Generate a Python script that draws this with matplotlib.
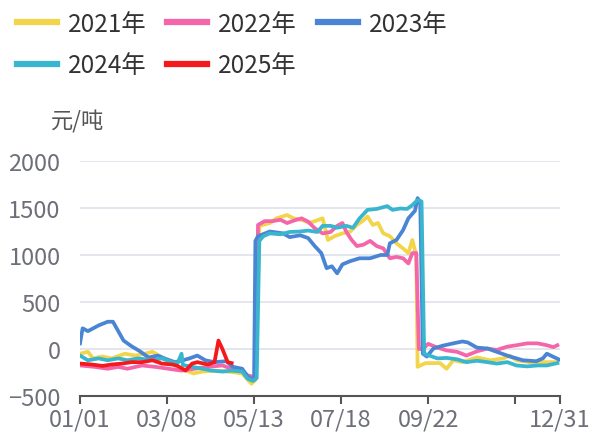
import matplotlib
matplotlib.use("Agg")
import matplotlib.pyplot as plt

plt.rcParams['font.family'] = ['Noto Sans CJK SC', 'DejaVu Sans']

# day of year (0 = 01/01) and price spread, 元/吨
d2021 = [0, 6, 10, 17, 24, 34, 42, 49, 55, 61, 70, 77, 86, 93, 102, 112, 123, 130, 133,
         136, 144, 149, 157, 162, 169, 174, 180, 184, 188, 193, 199, 205, 210, 215, 218, 222,
         226, 230, 235, 240, 245, 249, 252, 254, 255, 256, 262, 273, 278, 283, 290, 301,
         311, 321, 326, 331, 341, 351, 362]
v2021 = [-50, -30, -100, -80, -100, -50, -70, -50, -30, -80, -155, -210, -260, -240, -230,
         -240, -260, -370, -330, 1310, 1340, 1390, 1425, 1390, 1370, 1340, 1370, 1390, 1160,
         1200, 1230, 1250, 1320, 1370, 1410, 1320, 1340, 1230, 1200, 1125, 1070, 1020, 1160,
         1050, 1020, -190, -150, -150, -210, -120, -140, -90, -120, -100, -70, -120, -140,
         -140, -140]

d2022 = [0, 11, 21, 29, 36, 47, 57, 67, 77, 87, 97, 108, 115, 123, 127, 133, 135, 140, 146,
         152, 157, 163, 168, 173, 178, 184, 190, 195, 199, 202, 206, 210, 215, 220, 225, 230,
         235, 240, 245, 249, 252, 255, 257, 260, 264, 271, 278, 286, 293, 301, 309, 316, 324,
         331, 339, 347, 354, 359, 362]
v2022 = [-175, -190, -210, -190, -210, -175, -190, -210, -230, -210, -190, -175, -210, -230,
         -280, -300, 1320, 1360, 1360, 1375, 1340, 1370, 1390, 1355, 1285, 1230, 1245, 1310,
         1340, 1245, 1160, 1095, 1110, 1150, 1095, 1070, 965, 980, 965, 910, 1020, 1020, 0, 0,
         55, 15, -15, -30, -70, -25, 5, -10, 25, 40, 60, 60, 40, 20, 40]

d2023 = [0, 2, 6, 14, 21, 25, 29, 33, 39, 45, 52, 59, 64, 72, 78, 83, 89, 95, 102, 111, 116,
         123, 127, 130, 132, 133, 135, 144, 154, 159, 167, 173, 178, 183, 187, 191, 195, 199,
         205, 212, 220, 228, 233, 235, 240, 245, 249, 254, 256, 258, 260, 263, 268, 275, 283,
         290, 294, 301, 309, 316, 326, 336, 346, 351, 354, 360, 363]
v2023 = [60, 220, 190, 250, 290, 290, 190, 90, 30, -20, -90, -70, -100, -140, -120, -100, -70,
         -120, -140, -130, -190, -210, -290, -320, -330, 1150, 1200, 1250, 1230, 1190, 1210,
         1180, 1095, 1020, 860, 880, 805, 900, 935, 965, 965, 1000, 1000, 1125, 1160, 1265,
         1390, 1470, 1605, 1560, -50, -80, 5, 35, 60, 80, 70, 15, 5, -30, -80, -120, -130,
         -100, -50, -90, -110]

d2024 = [0, 6, 14, 21, 29, 36, 44, 55, 62, 70, 74, 77, 78, 85, 93, 100, 108, 115, 123, 127,
         131, 134, 136, 139, 144, 152, 159, 167, 173, 180, 184, 190, 195, 202, 207, 212, 218,
         225, 233, 237, 243, 248, 252, 256, 259, 261, 265, 271, 278, 286, 293, 301, 309, 316,
         324, 331, 339, 347, 354, 362]
v2024 = [-70, -120, -100, -120, -100, -120, -100, -120, -100, -140, -150, -50, -170, -190,
         -210, -230, -240, -230, -240, -315, -340, -310, 1150, 1200, 1230, 1220, 1245, 1250,
         1260, 1245, 1310, 1310, 1290, 1310, 1290, 1390, 1480, 1490, 1520, 1480, 1495, 1490,
         1530, 1585, 1570, -50, -70, -100, -95, -110, -140, -125, -140, -155, -140, -175,
         -185, -175, -175, -150]

d2025 = [0, 9, 17, 24, 32, 39, 47, 55, 62, 70, 74, 80, 85, 89, 97, 102, 105, 108, 112, 115]
v2025 = [-155, -165, -180, -165, -155, -140, -140, -120, -155, -165, -180, -230, -155, -140,
         -165, -140, 90, 0, -140, -150]

series = [("2021年", d2021, v2021, "#f3d54c"),
          ("2022年", d2022, v2022, "#f466a9"),
          ("2023年", d2023, v2023, "#4a85d4"),
          ("2024年", d2024, v2024, "#3ab5cf"),
          ("2025年", d2025, v2025, "#f5191c")]

tick_days = [0, 66, 132, 198, 264, 330, 364]
tick_labels = ["01/01", "03/08", "05/13", "07/18", "09/22", "", "12/31"]

fig = plt.figure(figsize=(5.91, 4.39), dpi=100)
ax = fig.add_axes([80/591, 1-397/439, 480/591, 235/439])

lines = []
for name, d, v, c in series:
    l, = ax.plot(d, v, color=c, lw=2.7, label=name, solid_joinstyle='round')
    lines.append(l)

ax.set_xlim(0, 364)
ax.set_ylim(-500, 2000)
ax.set_yticks([-500, 0, 500, 1000, 1500, 2000])
ax.set_xticks(tick_days)
ax.set_xticklabels(tick_labels)
ax.grid(axis='y', color='#e0e3ee', lw=1.3)
ax.set_axisbelow(True)
for s in ['top', 'right', 'left']:
    ax.spines[s].set_visible(False)
ax.spines['bottom'].set_color('#555555')
ax.spines['bottom'].set_linewidth(1.5)
ax.tick_params(axis='x', colors='#555555', length=6, width=1.5, labelsize=17,
               labelcolor='#6e7079', pad=2)
ax.tick_params(axis='y', length=0, labelsize=17, labelcolor='#6e7079', pad=14)

fig.text(78/591, 1-122/439, "元/吨", fontsize=16, color='#555555', ha='center', va='center')

# legend fills column by column, so reorder to get rows 2021-2023 / 2024-2025
order = [0, 3, 1, 4, 2]
fig.legend([lines[i] for i in order], [series[i][0] for i in order],
           loc='upper left', bbox_to_anchor=(17/591, 1-12/439), ncol=3, frameon=False,
           fontsize=17.5, handlelength=1.65, handletextpad=0.45, columnspacing=0.85,
           labelspacing=0.62, borderpad=0, borderaxespad=0, labelcolor='#333333')
for line in fig.legends[0].get_lines():
    line.set_linewidth(4.5)

fig.savefig("out.png", dpi=100)
